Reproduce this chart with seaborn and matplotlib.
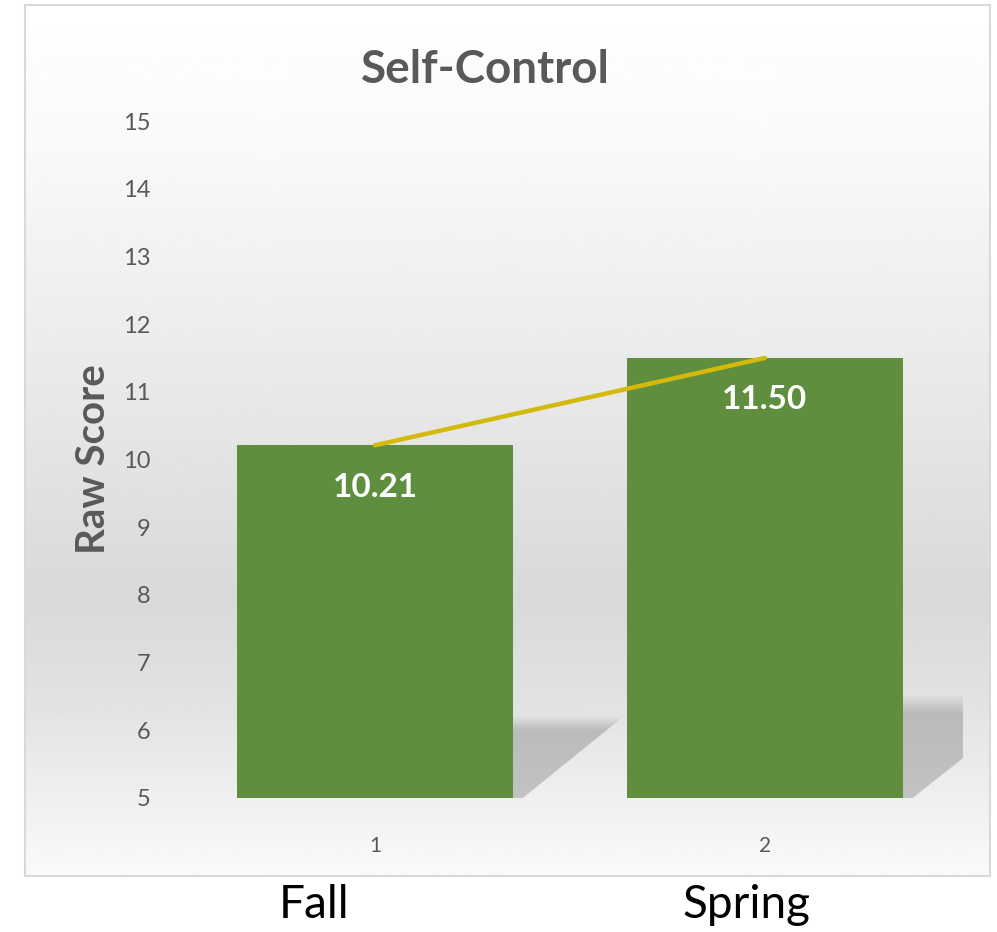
import numpy as np
import pandas as pd
import matplotlib
matplotlib.use("Agg")
import matplotlib.pyplot as plt
import seaborn as sns
from matplotlib.patches import Polygon

# ---- data ----
categories = ["1", "2"]
group_names = ["Fall", "Spring"]
values = [10.21, 11.50]
value_labels = ["10.21", "11.50"]
y_ticks = [5, 6, 7, 8, 9, 10, 11, 12, 13, 14, 15]
title = "Self-Control"
y_label = "Raw Score"

sns.set_theme(style="white")
plt.rcParams["font.family"] = ["Lato", "DejaVu Sans"]

W, H = 997, 932
fig = plt.figure(figsize=(W / 100, H / 100), dpi=100)

# background panel with vertical gradient
bg = fig.add_axes([25 / W, 1 - 876 / H, (990 - 25) / W, (876 - 5) / H])
stops_y = np.array([0.0, 0.15, 0.45, 0.68, 0.8, 1.0])
stops_c = np.array([255, 250, 232, 217, 226, 250])
yy = np.linspace(0, 1, 400)
col = np.interp(yy, stops_y, stops_c) / 255.0
img = np.repeat(col[:, None], 2, axis=1)
bg.imshow(img, cmap="gray", vmin=0, vmax=1, aspect="auto", extent=[0, 1, 1, 0])
bg.set_xlim(0, 1)
bg.set_ylim(1, 0)
bg.set_xticks([])
bg.set_yticks([])
for s in bg.spines.values():
    s.set_color("#d9d9d9")
    s.set_linewidth(1.5)

# main axes
left, right = 180, 963
bottom_px, top_px = 798, 121
ax = fig.add_axes([left / W, 1 - bottom_px / H, (right - left) / W, (bottom_px - top_px) / H])
ax.patch.set_alpha(0)

df = pd.DataFrame({"cat": categories, "val": values})
sns.barplot(data=df, x="cat", y="val", order=categories, color="#5f8f3e",
            saturation=1, width=0.708, ax=ax, zorder=3, edgecolor="none")

ax.set_ylim(5, 15)
ax.set_xlim(-0.5, 1.508)

# floor shadows (gradient clipped to a slanted polygon)
shade = np.zeros((100, 2, 4))
tt = np.linspace(0, 1, 100)[:, None]  # 0 = top, 1 = bottom
alpha = np.clip(tt / 0.18, 0, 1) * 0.30
shade[..., 0] = 0.35
shade[..., 1] = 0.35
shade[..., 2] = 0.35
shade[..., 3] = alpha
for i, v in enumerate(values):
    h = (v - 5) * 0.235
    x0 = i + 0.354
    wtop = h * 0.235
    poly = Polygon([(x0, 5), (x0, 5 + h), (x0 + wtop, 5 + h), (x0 + 0.025, 5)],
                   closed=True, facecolor="none", edgecolor="none",
                   transform=ax.transData)
    ax.add_patch(poly)
    im = ax.imshow(shade, extent=[x0, x0 + wtop, 5, 5 + h], aspect="auto",
                   zorder=1, interpolation="bilinear")
    im.set_clip_path(poly)
ax.set_ylim(5, 15)
ax.set_xlim(-0.5, 1.508)

# connecting line
sns.lineplot(x=np.arange(len(values)), y=values, ax=ax, color="#d4b90a",
             linewidth=3.2, zorder=4)

# value labels
for i, (v, lab) in enumerate(zip(values, value_labels)):
    ax.text(i, v - 0.62, lab, ha="center", va="center", color="white",
            fontsize=24, fontweight="bold", zorder=5)

ax.set_yticks(y_ticks)
ax.set_yticklabels([str(t) for t in y_ticks], fontsize=17, color="#595959")
ax.tick_params(axis="y", length=0, pad=21)
ax.tick_params(axis="x", length=0, pad=27, labelsize=15, labelcolor="#595959")
ax.set_xlabel("")
ax.set_ylabel(y_label, fontsize=29, fontweight="bold", color="#595959", labelpad=8)
for s in ax.spines.values():
    s.set_visible(False)
ax.grid(False)

fig.text(485 / W, 1 - 70 / H, title, ha="center", va="center",
         fontsize=33, fontweight="bold", color="#595959")

fig.text(314 / W, 1 - 905 / H, group_names[0], ha="center", va="center",
         fontsize=33, color="black")
fig.text(747 / W, 1 - 905 / H, group_names[1], ha="center", va="center",
         fontsize=33, color="black")

fig.savefig("out.png", dpi=100)
